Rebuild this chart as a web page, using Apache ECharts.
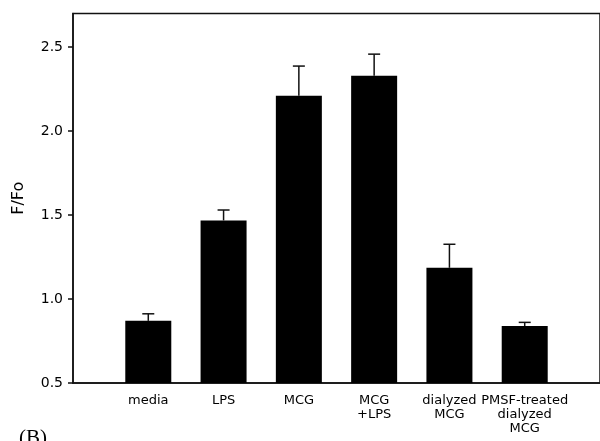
<!DOCTYPE html>
<html>
<head>
<meta charset="utf-8">
<script src="https://cdn.jsdelivr.net/npm/echarts@6/dist/echarts.min.js"></script>
<style>html,body{margin:0;padding:0;background:#fff}#c{width:600px;height:441px}</style>
</head>
<body>
<div id="c"></div>
<script>
const categories = ['media', 'LPS', 'MCG', 'MCG\n+LPS', 'dialyzed\nMCG', 'PMSF-treated\ndialyzed\nMCG'];
const means = [0.87, 1.468, 2.21, 2.329, 1.186, 0.839];
const upperErr = [0.912, 1.53, 2.387, 2.458, 1.326, 0.861];
const yTicks = [0.5, 1.0, 1.5, 2.0, 2.5];

const positions = categories.map((c, i) => i + 1);
const barData = positions.map((p, i) => [p, means[i]]);
const errData = positions.map((p, i) => [p, means[i], upperErr[i]]);

const chart = echarts.init(document.getElementById('c'));
chart.setOption({
  animation: false,
  grid: { left: 73, right: -3, top: 13.5, bottom: 58, show: true, borderColor: '#111', borderWidth: 1.5, backgroundColor: 'transparent' },
  xAxis: {
    type: 'value', min: 0, max: 7,
    splitLine: { show: false },
    axisLine: { show: true, onZero: false, lineStyle: { color: '#111', width: 1.5 } },
    axisTick: { show: false },
    axisLabel: {
      customValues: positions,
      formatter: v => categories[Math.round(v) - 1] || '',
      color: '#000', fontFamily: 'DejaVu Sans', fontSize: 13, lineHeight: 14, margin: 11
    }
  },
  yAxis: {
    type: 'value', min: 0.5, max: 2.7,
    name: 'F/Fo', nameLocation: 'middle', nameGap: 46, nameRotate: 90,
    nameTextStyle: { color: '#000', fontFamily: 'DejaVu Sans', fontSize: 16 },
    splitLine: { show: false },
    axisLine: { show: true, lineStyle: { color: '#111', width: 1.5 } },
    axisTick: { show: true, customValues: yTicks, length: 5, lineStyle: { color: '#111', width: 1.5 } },
    axisLabel: {
      customValues: yTicks,
      formatter: v => v.toFixed(1),
      color: '#000', fontFamily: 'DejaVu Sans', fontSize: 14, margin: 10
    }
  },
  series: [
    {
      type: 'bar', data: barData, barWidth: 46,
      itemStyle: { color: '#000' }
    },
    {
      type: 'custom', data: errData, z: 1,
      renderItem: function (params, api) {
        const x = api.value(0);
        const top = api.coord([x, api.value(2)]);
        const base = api.coord([x, api.value(1)]);
        const hw = 6;
        return {
          type: 'group',
          children: [
            { type: 'line', shape: { x1: top[0], y1: base[1], x2: top[0], y2: top[1] }, style: { stroke: '#111', lineWidth: 1.5 } },
            { type: 'line', shape: { x1: top[0] - hw, y1: top[1], x2: top[0] + hw, y2: top[1] }, style: { stroke: '#111', lineWidth: 1.5 } }
          ]
        };
      }
    }
  ],
  graphic: [
    { type: 'text', left: 19, top: 428, style: { text: '(B)', font: '21px "Liberation Serif"', fill: '#000' } }
  ]
});
</script>
</body>
</html>
